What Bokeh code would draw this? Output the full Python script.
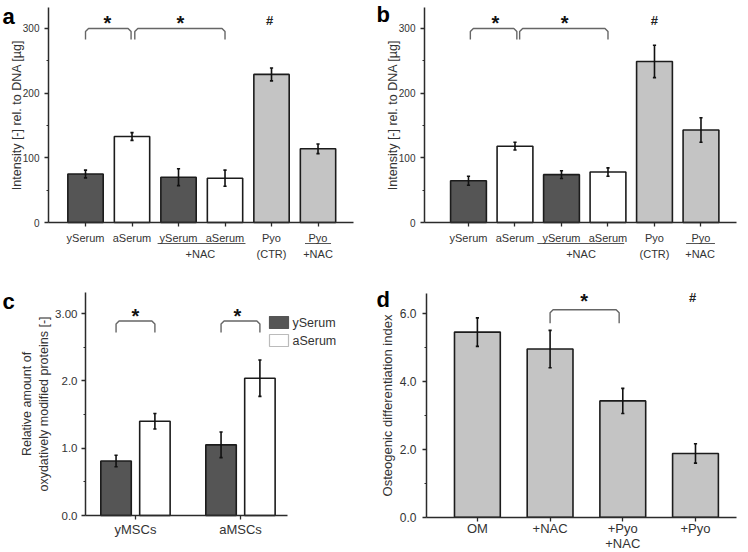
from bokeh.plotting import figure
from bokeh.models import Range1d, FixedTicker, ColumnDataSource, CustomJSTickFormatter
from bokeh.layouts import column, row
from bokeh.embed import file_html
from bokeh.resources import INLINE
from bokeh.core.properties import value

FONT = "Liberation Sans"
TXT = "#333333"
AX = "#2b2b2b"
DARK = "#555555"
LIGHT = "#c4c4c4"
WHITE = "#ffffff"
EDGE = "#1c1c1c"

# ---------------- data ----------------
# panel a
a_x = [1, 2, 3, 4, 5, 6]
a_labels = ["ySerum", "aSerum", "ySerum", "aSerum", "Pyo", "Pyo"]
a_values = [75, 133, 70, 68.5, 229, 114]
a_errors = [6, 6, 13, 12.5, 10, 7.5]
a_sub_text = ["+NAC", "(CTR)", "+NAC"]
a_sub_x = [3.47, 5.0, 6.0]
a_underlines = [(2.55, 4.44), (5.72, 6.28)]
a_brackets = [(1.0, 1.98, 300), (2.06, 4.0, 300)]
a_marks = [(1.47, "*"), (3.04, "*"), (4.96, "#")]

# panel b
b_x = [1, 2, 3, 4, 5, 6]
b_labels = ["ySerum", "aSerum", "ySerum", "aSerum", "Pyo", "Pyo"]
b_values = [64.5, 118, 74, 78, 249, 143]
b_errors = [7, 6, 6, 6.5, 25, 19]
b_sub_text = ["+NAC", "(CTR)", "+NAC"]
b_sub_x = [3.42, 5.0, 5.98]
b_underlines = [(2.48, 4.35), (5.68, 6.3)]
b_brackets = [(1.04, 2.04, 300), (2.1, 4.0, 300)]
b_marks = [(1.58, "*"), (3.07, "*"), (5.0, "#")]

ab_colors = [DARK, WHITE, DARK, WHITE, LIGHT, LIGHT]
ab_yticks = [0, 100, 200, 300]
ab_ylabels = ["0", "100", "200", "300"]
ab_yminor = [50, 150, 250]

# panel c
c_groups = ["yMSCs", "aMSCs"]
c_x = [1, 2]
c_yserum = [0.81, 1.05]
c_yserum_err = [0.085, 0.19]
c_aserum = [1.40, 2.04]
c_aserum_err = [0.115, 0.27]
c_yticks = [0.0, 1.0, 2.0, 3.0]
c_ylabels = ["0.0", "1.0", "2.0", "3.00"]
c_yminor = [0.5, 1.5, 2.5]
c_brackets = [(0.815, 1.185, 2.89), (1.815, 2.185, 2.89)]
c_marks = [(1.0, "*"), (1.97, "*")]
c_series = ["ySerum", "aSerum"]

# panel d
d_x = [1, 2, 3, 4]
d_labels = ["OM", "+NAC", "+Pyo\n+NAC", "+Pyo"]
d_values = [5.46, 4.96, 3.43, 1.88]
d_errors = [0.42, 0.55, 0.37, 0.285]
d_yticks = [0.0, 2.0, 4.0, 6.0]
d_ylabels = ["0.0", "2.0", "4.0", "6.0"]
d_yminor = [1.0, 3.0, 5.0]
d_brackets = [(2.0, 2.95, 6.12)]
d_marks = [(2.47, "*"), (3.96, "#")]


def fmt(tvals, tlabels):
    return CustomJSTickFormatter(args=dict(tv=tvals, tl=tlabels), code="""
        for (let i = 0; i < tv.length; i++) {
            if (Math.abs(tv[i] - tick) < 1e-9) { return tl[i]; }
        }
        return '';
    """)


class Panel:
    """Figure whose frame fills the whole canvas; axes are pinned at data positions.
    ox, oy: page position of canvas; axpx, aypx: page position of the axes corner."""

    def __init__(self, w, h, ox, oy, axpx, aypx, xa0, xa1, ya1, sx, sy):
        self.axpx, self.aypx = axpx, aypx
        self.xa0, self.sx, self.sy = xa0, sx, sy
        xs = xa0 - (axpx - ox) / sx
        ys = -(oy + h - aypx) / sy
        self.p = figure(width=w, height=h,
                        x_range=Range1d(xs, xs + w / sx), y_range=Range1d(ys, ys + h / sy),
                        output_backend="svg", toolbar_location=None,
                        min_border_left=0, min_border_right=0,
                        min_border_top=0, min_border_bottom=0,
                        background_fill_color="white", border_fill_color="white")
        p = self.p
        p.outline_line_color = None
        p.xgrid.visible = False
        p.ygrid.visible = False
        xa = p.xaxis[0]
        ya = p.yaxis[0]
        xa.fixed_location = 0
        xa.bounds = (xa0, xa1)
        ya.fixed_location = xa0
        ya.bounds = (0, ya1)

    def X(self, px):
        return self.xa0 + (px - self.axpx) / self.sx

    def Y(self, py):
        return (self.aypx - py) / self.sy


def style_axes(P, yticks, ylabels, yminor, xticks, xlabels, ytitle,
               ytick_fs, xtick_fs, title_fs, ystand, tstand, xstand, xlh=1.2):
    p = P.p
    xa = p.xaxis[0]
    ya = p.yaxis[0]
    for ax in (xa, ya):
        ax.axis_line_color = AX
        ax.axis_line_width = 1.5
        ax.major_tick_line_color = AX
        ax.major_tick_line_width = 1.3
        ax.minor_tick_line_color = AX
        ax.minor_tick_line_width = 1.1
        ax.major_tick_in = 0
        ax.major_tick_out = 4
        ax.minor_tick_in = 0
        ax.minor_tick_out = 2
        ax.major_label_text_font = FONT
        ax.major_label_text_color = TXT
    ya.ticker = FixedTicker(ticks=yticks, minor_ticks=yminor)
    ya.formatter = fmt(yticks, ylabels)
    ya.major_label_text_font_size = ytick_fs
    ya.major_label_standoff = ystand
    ya.axis_label = ytitle
    ya.axis_label_text_font = FONT
    ya.axis_label_text_font_style = "normal"
    ya.axis_label_text_font_size = title_fs
    ya.axis_label_text_color = TXT
    ya.axis_label_standoff = tstand
    xa.ticker = FixedTicker(ticks=xticks, minor_ticks=[])
    xa.formatter = fmt(xticks, xlabels)
    xa.major_label_text_font_size = xtick_fs
    xa.major_label_text_line_height = xlh
    xa.major_label_standoff = xstand
    xa.minor_tick_line_color = None


def bars(P, xs, vals, errs, colors, width):
    p = P.p
    src = ColumnDataSource(dict(x=xs, top=vals, color=colors))
    p.vbar(x="x", top="top", bottom=0, width=width, fill_color="color", line_color=EDGE,
           line_width=1.6, source=src)
    cw = 1.6 / P.sx
    lo = [v - e for v, e in zip(vals, errs)]
    hi = [v + e for v, e in zip(vals, errs)]
    p.segment(x0=xs, y0=lo, x1=xs, y1=hi, line_color="#111111", line_width=1.6)
    p.segment(x0=[x - cw for x in xs], y0=hi, x1=[x + cw for x in xs], y1=hi,
              line_color="#111111", line_width=1.6)
    p.segment(x0=[x - cw for x in xs], y0=lo, x1=[x + cw for x in xs], y1=lo,
              line_color="#111111", line_width=1.6)


def brackets(P, blist, leg_px):
    xs, ys = [], []
    for x0, x1, yt in blist:
        yl = yt - leg_px / P.sy
        rx = 3 / P.sx
        ry = 3 / P.sy
        xs.append([x0, x0, x0 + rx, x1 - rx, x1, x1])
        ys.append([yl, yt - ry, yt, yt, yt - ry, yl])
    P.p.multi_line(xs=xs, ys=ys, line_color="#666666", line_width=1.4)


def marks(P, mlist, ycenter, star_fs=20, hash_fs=13):
    # baseline offsets (px below the visual centre) tuned for Liberation Sans Bold
    for x, t in mlist:
        if t == "*":
            P.p.text(x=[x], y=[ycenter - 2.0 / P.sy], text=[t],
                     text_font=value(FONT), text_font_style="bold",
                     text_font_size=f"{star_fs}px", text_align="center",
                     text_baseline="alphabetic", text_color="#111111")
        else:
            P.p.text(x=[x], y=[ycenter + 0.5 / P.sy], text=[t],
                     text_font=value(FONT), text_font_style="bold",
                     text_font_size=f"{hash_fs}px", text_align="center",
                     text_baseline="alphabetic", text_color="#222222")


def letter(P, page_x, page_baseline, t):
    P.p.text(x=[P.X(page_x)], y=[P.Y(page_baseline - 4)], text=[t], text_font=value(FONT),
             text_font_style="bold", text_font_size="22px", text_color="#000000",
             text_align="left", text_baseline="alphabetic")


def sublabels(P, xs, texts, underlines, fs):
    P.p.text(x=xs, y=[-31 / P.sy] * len(xs), text=texts, text_font=value(FONT),
             text_font_size=fs, text_color=TXT, text_align="center",
             text_baseline="middle")
    P.p.segment(x0=[u[0] for u in underlines], x1=[u[1] for u in underlines],
                y0=[-21 / P.sy] * len(underlines), y1=[-21 / P.sy] * len(underlines),
                line_color="#555555", line_width=1.0)


# ---------------- panel a ----------------
# canvas page (0,0) 374x276 ; axes corner page (48, 222)
A = Panel(374, 276, 0, 0, 48, 222, 0.204, 6.763, 332, 46.5, 0.6467)
style_axes(A, ab_yticks, ab_ylabels, ab_yminor, a_x, a_labels,
           "Intensity [-] rel. to DNA [µg]", "10px", "11px", "12.5px", 5, -4, 5)
bars(A, a_x, a_values, a_errors, ab_colors, 0.76)
brackets(A, a_brackets, 11)
marks(A, a_marks, 311)
sublabels(A, a_sub_x, a_sub_text, a_underlines, "11px")
letter(A, 2, 20, "a")

# ---------------- panel b ----------------
B = Panel(374, 276, 374, 0, 424, 222, 0.054, 6.764, 332, 46.5, 0.6467)
style_axes(B, ab_yticks, ab_ylabels, ab_yminor, b_x, b_labels,
           "Intensity [-] rel. to DNA [µg]", "10px", "11px", "12.5px", 5, -4, 5)
bars(B, b_x, b_values, b_errors, ab_colors, 0.77)
brackets(B, b_brackets, 11)
marks(B, b_marks, 311)
sublabels(B, b_sub_x, b_sub_text, b_underlines, "11px")
letter(B, 376, 18, "b")

# ---------------- panel c ----------------
# canvas page (0,276) 374x276 ; axes corner page (85, 515)
C = Panel(374, 276, 0, 276, 85, 515, 0.524, 2.448, 3.31, 105.0, 67.3)
style_axes(C, c_yticks, c_ylabels, c_yminor, c_x, c_groups,
           "Relative amount of\noxydatively modified proteins [-]",
           "11.5px", "13px", "12.5px", 4, 1, 2)
off = 0.185
bars(C, [x - off for x in c_x], c_yserum, c_yserum_err, [DARK, DARK], 0.29)
bars(C, [x + off for x in c_x], c_aserum, c_aserum_err, [WHITE, WHITE], 0.29)
brackets(C, c_brackets, 11.5)
marks(C, c_marks, 2.99)
# legend
C.p.quad(left=[C.X(269)] * 2, right=[C.X(288)] * 2,
         top=[C.Y(316), C.Y(334)], bottom=[C.Y(328), C.Y(346)],
         fill_color=[DARK, WHITE], line_color=[DARK, "#bbbbbb"], line_width=1.2)
C.p.text(x=[C.X(292)] * 2, y=[C.Y(322), C.Y(340)], text=c_series,
         text_font=value(FONT), text_font_size="12.5px", text_color=TXT,
         text_align="left", text_baseline="middle")
letter(C, 2, 305, "c")

# ---------------- panel d ----------------
# canvas page (374,276) 374x276 ; axes corner page (426, 516.7)
D = Panel(374, 276, 374, 276, 426, 516.7, 0.30, 4.564, 6.6, 72.7, 33.9)
style_axes(D, d_yticks, d_ylabels, d_yminor, d_x, d_labels,
           "Osteogenic differentiation index", "12px", "13px", "13px", 6, 2, 0, xlh=1.0)
bars(D, d_x, d_values, d_errors, [LIGHT] * 4, 0.63)
brackets(D, d_brackets, 13.5)
marks(D, [d_marks[0]], 6.44)
marks(D, [d_marks[1]], 6.48)
letter(D, 376, 303, "d")

layout = column(row(A.p, B.p), row(C.p, D.p))
open("out.html", "w").write(file_html(layout, INLINE))
